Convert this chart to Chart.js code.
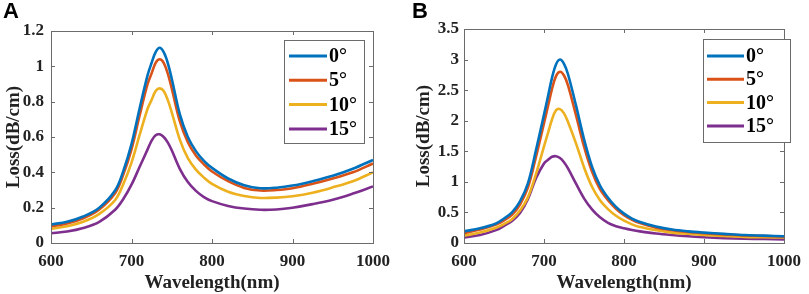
<!DOCTYPE html>
<html>
<head>
<meta charset="utf-8">
<script src="https://cdn.jsdelivr.net/npm/chart.js@4.4.1/dist/chart.umd.min.js"></script>
<style>
  body { margin: 0; background: #fff; width: 809px; height: 294px; position: relative; overflow: hidden; }
  .panel { position: absolute; top: 0; height: 294px; }
  .tag { position: absolute; top: -2px; font: bold 22px "Liberation Sans", Arial, sans-serif; color: #000; }
</style>
</head>
<body>
<div class="panel" style="left:0;width:400px"><canvas id="chartA" width="400" height="294"></canvas></div>
<div class="panel" style="left:410px;width:399px"><canvas id="chartB" width="399" height="294"></canvas></div>
<div class="tag" style="left:3px">A</div>
<div class="tag" style="left:412px">B</div>
<script>
const angles = ['0°', '5°', '10°', '15°'];
const colors = ['#0072BD', '#D95319', '#EDB120', '#7E2F8E'];

// A 패널 (nm)
const wavelengthA = [600, 620, 640, 660, 680, 690, 700, 710, 720, 725, 730, 735, 740, 745, 750, 760, 770, 780, 790, 800, 820, 840, 860, 880, 900, 925, 950, 975, 1000];
const lossA0 = [0.105, 0.12, 0.15, 0.2, 0.3, 0.41, 0.56, 0.76, 0.95, 1.02, 1.08, 1.105, 1.08, 1.02, 0.93, 0.73, 0.6, 0.52, 0.465, 0.425, 0.365, 0.327, 0.31, 0.313, 0.325, 0.35, 0.38, 0.42, 0.47];
const lossA5 = [0.095, 0.11, 0.14, 0.19, 0.285, 0.39, 0.53, 0.72, 0.9, 0.96, 1.02, 1.04, 1.02, 0.96, 0.875, 0.69, 0.57, 0.495, 0.445, 0.405, 0.35, 0.312, 0.297, 0.3, 0.31, 0.335, 0.365, 0.4, 0.45];
const lossA10 = [0.08, 0.095, 0.12, 0.165, 0.245, 0.335, 0.455, 0.61, 0.76, 0.81, 0.86, 0.875, 0.86, 0.81, 0.74, 0.585, 0.48, 0.415, 0.37, 0.335, 0.29, 0.266, 0.255, 0.257, 0.265, 0.285, 0.315, 0.35, 0.4];
const lossA15 = [0.055, 0.065, 0.085, 0.12, 0.19, 0.25, 0.33, 0.43, 0.53, 0.58, 0.61, 0.615, 0.6, 0.57, 0.525, 0.42, 0.345, 0.295, 0.26, 0.237, 0.21, 0.195, 0.188, 0.19, 0.2, 0.22, 0.245, 0.28, 0.32];

// B 패널 (nm)
const wavelengthB = [600, 620, 640, 650, 660, 670, 680, 690, 700, 705, 710, 715, 720, 725, 730, 740, 750, 760, 770, 780, 790, 800, 810, 820, 840, 860, 880, 900, 925, 950, 975, 1000];
const lossB0 = [0.19, 0.24, 0.32, 0.4, 0.5, 0.68, 0.98, 1.52, 2.1, 2.4, 2.7, 2.92, 3.0, 2.93, 2.76, 2.25, 1.7, 1.25, 0.94, 0.74, 0.59, 0.48, 0.4, 0.345, 0.27, 0.22, 0.19, 0.17, 0.15, 0.13, 0.12, 0.11];
const lossB5 = [0.16, 0.22, 0.3, 0.37, 0.46, 0.63, 0.91, 1.41, 1.96, 2.24, 2.52, 2.73, 2.8, 2.74, 2.58, 2.09, 1.58, 1.17, 0.88, 0.7, 0.56, 0.455, 0.38, 0.325, 0.25, 0.21, 0.18, 0.16, 0.14, 0.125, 0.115, 0.105];
const lossB10 = [0.12, 0.17, 0.25, 0.31, 0.39, 0.53, 0.75, 1.13, 1.58, 1.8, 2.02, 2.17, 2.19, 2.12, 1.98, 1.63, 1.24, 0.92, 0.7, 0.555, 0.445, 0.365, 0.305, 0.26, 0.21, 0.17, 0.15, 0.13, 0.115, 0.1, 0.095, 0.09];
const lossB15 = [0.09, 0.13, 0.21, 0.28, 0.36, 0.49, 0.72, 1.06, 1.3, 1.36, 1.41, 1.42, 1.39, 1.32, 1.22, 0.97, 0.73, 0.55, 0.42, 0.33, 0.275, 0.24, 0.212, 0.19, 0.155, 0.13, 0.11, 0.095, 0.08, 0.07, 0.065, 0.06];

const xTicks = [600, 700, 800, 900, 1000];
const yTicksA = [0, 0.2, 0.4, 0.6, 0.8, 1, 1.2];
const yTicksB = [0, 0.5, 1, 1.5, 2, 2.5, 3, 3.5];

const serif = '"Liberation Serif", "Times New Roman", serif';

// 축 박스 + 안쪽 눈금 (MATLAB 스타일)
const boxPlugin = {
  id: 'boxAxes',
  afterDatasetsDraw(chart) {
    const { ctx, chartArea: a, scales } = chart;
    ctx.save();
    ctx.strokeStyle = '#6b6b6b';
    ctx.lineWidth = 1;
    ctx.strokeRect(a.left + 0.5, a.top + 0.5, a.right - a.left, a.bottom - a.top);
    const len = 4;
    ctx.beginPath();
    scales.x.ticks.forEach((t) => {
      const px = Math.round(scales.x.getPixelForValue(t.value)) + 0.5;
      ctx.moveTo(px, a.bottom); ctx.lineTo(px, a.bottom - len);
      ctx.moveTo(px, a.top); ctx.lineTo(px, a.top + len);
    });
    scales.y.ticks.forEach((t) => {
      const py = Math.round(scales.y.getPixelForValue(t.value)) + 0.5;
      ctx.moveTo(a.left, py); ctx.lineTo(a.left + len, py);
      ctx.moveTo(a.right, py); ctx.lineTo(a.right - len, py);
    });
    ctx.stroke();
    ctx.restore();
  },
};

// 플롯 안쪽 범례 박스
const boxLegendPlugin = {
  id: 'boxLegend',
  afterDraw(chart, args, opts) {
    const { ctx } = chart;
    ctx.save();
    ctx.fillStyle = '#fff';
    ctx.fillRect(opts.x, opts.y, opts.w, opts.h);
    ctx.strokeStyle = '#6b6b6b';
    ctx.lineWidth = 1;
    ctx.strokeRect(opts.x + 0.5, opts.y + 0.5, opts.w, opts.h);
    ctx.font = 'bold 20px ' + serif;
    ctx.textBaseline = 'middle';
    ctx.fillStyle = '#000';
    chart.data.datasets.forEach((ds, i) => {
      const y = opts.y + opts.rowTop + i * opts.rowGap;
      ctx.strokeStyle = ds.borderColor;
      ctx.lineWidth = 3;
      ctx.beginPath();
      ctx.moveTo(opts.x + opts.lineStart, y);
      ctx.lineTo(opts.x + opts.lineEnd, y);
      ctx.stroke();
      ctx.fillText(ds.label, opts.x + opts.lineEnd + 2, y + 1);
    });
    ctx.restore();
  },
};

function makeDatasets(xs, series) {
  return series.map((data, i) => ({
    label: angles[i],
    data: xs.map((w, j) => ({ x: w, y: data[j] })),
    borderColor: colors[i],
    backgroundColor: colors[i],
    borderWidth: 2.6,
    tension: 0.35,
    pointRadius: 0,
  }));
}

function makeConfig(xs, series, yMax, yTicks, layout, legend) {
  return {
    type: 'line',
    data: { datasets: makeDatasets(xs, series) },
    options: {
      responsive: false,
      animation: false,
      events: [],
      layout: { padding: { left: 0, right: layout.right, top: layout.top, bottom: 0 } },
      plugins: {
        legend: { display: false },
        tooltip: { enabled: false },
        boxLegend: legend,
      },
      scales: {
        x: {
          type: 'linear',
          min: 600,
          max: 1000,
          afterBuildTicks: (s) => { s.ticks = xTicks.map((v) => ({ value: v })); },
          afterFit: (s) => { s.height = layout.xHeight; },
          grid: { display: false, drawTicks: false },
          border: { display: false },
          ticks: { color: '#222', padding: 8, maxRotation: 0, font: { family: serif, size: 17, weight: 'bold' }, callback: (v) => String(v) },
          title: { display: true, text: 'Wavelength(nm)', color: '#222', padding: { top: 0, bottom: 0 }, font: { family: serif, size: 19, weight: 'bold' } },
        },
        y: {
          type: 'linear',
          min: 0,
          max: yMax,
          afterBuildTicks: (s) => { s.ticks = yTicks.map((v) => ({ value: v })); },
          afterFit: (s) => { s.width = layout.yWidth; },
          grid: { display: false, drawTicks: false },
          border: { display: false },
          ticks: { color: '#222', padding: layout.yPad, font: { family: serif, size: 17, weight: 'bold' }, callback: (v) => String(v) },
          title: { display: true, text: 'Loss(dB/cm)', color: '#222', padding: { top: 3, bottom: 0 }, font: { family: serif, size: 19, weight: 'bold' } },
        },
      },
    },
    plugins: [boxPlugin, boxLegendPlugin],
  };
}

new Chart(document.getElementById('chartA'), makeConfig(
  wavelengthA, [lossA0, lossA5, lossA10, lossA15], 1.2, yTicksA,
  { right: 27, top: 31, xHeight: 51, yWidth: 51, yPad: 7 },
  { x: 284, y: 40, w: 80, h: 103, lineStart: 5, lineEnd: 43, rowTop: 16, rowGap: 24.3 }
));
new Chart(document.getElementById('chartB'), makeConfig(
  wavelengthB, [lossB0, lossB5, lossB10, lossB15], 3.5, yTicksB,
  { right: 17, top: 29, xHeight: 51, yWidth: 54, yPad: 5 },
  { x: 293, y: 39, w: 87, h: 103, lineStart: 4, lineEnd: 41, rowTop: 17, rowGap: 23.3 }
));
</script>
</body>
</html>
